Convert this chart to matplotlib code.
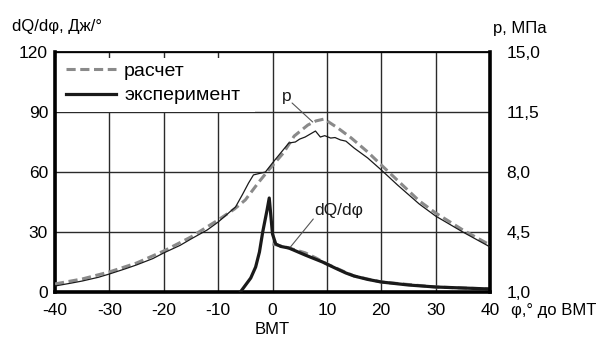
import numpy as np
import matplotlib
matplotlib.use('Agg')
import matplotlib.pyplot as plt
from matplotlib.patches import Rectangle
from matplotlib.ticker import FixedLocator, FuncFormatter

plt.rcParams['font.family'] = ['Liberation Sans', 'DejaVu Sans']
plt.rcParams['axes.unicode_minus'] = False

######
# data

# pressure, calculated (MPa)
phi_p_calc = [-40, -35, -30, -25, -20, -15, -10, -7, -5, -2.5, -0.7, 2, 4, 6.5, 8, 9.5,
              12, 14.5, 17.5, 20, 23.5, 27, 30, 35, 40]
p_calc = [1.47, 1.76, 2.17, 2.69, 3.39, 4.21, 5.20, 5.84, 6.37, 7.42, 8.12, 9.11, 10.10,
          10.74, 10.98, 11.09, 10.57, 9.98, 9.17, 8.41, 7.36, 6.31, 5.61, 4.62, 3.74]

# pressure, experiment (MPa)
phi_p_exp = [-40, -37, -35, -32, -30, -27, -25, -22, -20, -17, -15, -12, -10, -6.8, -5.5,
             -4.4, -3.5, -1.3, 0, 1.5, 3, 4.2, 5, 6, 7.9, 8.8, 9.6, 10.7, 11.5, 12.5, 13.5,
             15, 17.5, 20, 23, 27, 30, 35, 40]
p_exp = [1.35, 1.52, 1.64, 1.86, 2.05, 2.36, 2.58, 2.95, 3.28, 3.72, 4.09, 4.62, 5.08, 5.96,
         6.70, 7.36, 7.83, 8.00, 8.53, 9.11, 9.69, 9.75, 9.92, 10.04, 10.39, 10.04, 10.12,
         9.98, 10.01, 9.87, 9.80, 9.40, 8.82, 8.12, 7.24, 6.13, 5.43, 4.50, 3.63]

# heat release rate dQ/dphi, experiment (J/deg)
phi_q_exp = [-5.9, -4.0, -3.1, -2.4, -1.8, -1.0, -0.6, 0, 0.6, 1.5, 3, 6, 9.2, 11.5, 13.5,
             15, 17.5, 20, 25, 30, 35, 40]
q_exp = [0, 7.0, 12.5, 20, 30, 41, 47, 29, 24, 22.8, 22, 18.5, 15, 12, 9.5, 8, 6.3, 5, 3.5,
         2.5, 2, 1.5]

# heat release rate dQ/dphi, calculated (J/deg)
phi_q_calc = [0, 2, 4, 6, 8, 10, 15, 20, 30, 40]
q_calc = [24, 22.8, 21.2, 19.6, 17, 14, 8, 5, 2.5, 1.5]

x_ticks = [-40, -30, -20, -10, 0, 10, 20, 30, 40]
q_ticks = [0, 30, 60, 90, 120]
p_ticks = [1.0, 4.5, 8.0, 11.5, 15.0]

SIZE = 12.5
GRAY = '#8a8a8a'

fig = plt.figure(figsize=(6.01, 3.38), dpi=100)
ax = fig.add_axes([55/601, 1-292/338, 435/601, 240/338])
ax2 = ax.twinx()

ax.set_xlim(-40, 40)
ax.set_ylim(0, 120)
ax2.set_ylim(1, 15)

ax.set_axisbelow(True)
ax.xaxis.set_major_locator(FixedLocator(x_ticks))
ax.yaxis.set_major_locator(FixedLocator(q_ticks))
ax2.yaxis.set_major_locator(FixedLocator(p_ticks))
ax2.yaxis.set_major_formatter(FuncFormatter(lambda v, pos: ('%.1f' % v).replace('.', ',')))
ax.grid(True, color='#2a2a2a', lw=1.0)

ax.tick_params(axis='both', length=0, labelsize=SIZE, pad=5)
ax.tick_params(axis='x', pad=8)
ax2.tick_params(axis='y', length=0, labelsize=SIZE, pad=12)

for s in ['left', 'bottom']:
    ax.spines[s].set_linewidth(2.6)
ax.spines['top'].set_linewidth(1.3)
ax.spines['right'].set_visible(False)
for s in ['left', 'bottom', 'top']:
    ax2.spines[s].set_visible(False)
ax2.spines['right'].set_linewidth(2.6)

# white box behind the legend
ax.add_patch(Rectangle((0, 0.75), 0.46, 0.225, transform=ax.transAxes,
                       facecolor='white', edgecolor='none', zorder=1))

# curves
ax.plot(phi_q_calc, q_calc, color=GRAY, ls=(0, (3, 1.5)), lw=2.2, zorder=2)
ax.plot(phi_q_exp, q_exp, color='#1a1a1a', lw=2.3, zorder=3)
ax2.plot(phi_p_calc, p_calc, color=GRAY, ls=(0, (3, 1.5)), lw=2.2, zorder=2)
ax2.plot(phi_p_exp, p_exp, color='#1a1a1a', lw=0.9, zorder=3)

# legend
h1, = ax.plot([], [], color=GRAY, ls=(0, (3, 1.5)), lw=2.2, label='расчет')
h2, = ax.plot([], [], color='#1a1a1a', lw=2.3, label='эксперимент')
ax.legend(handles=[h1, h2], loc='upper left', bbox_to_anchor=(0, 1), frameon=False,
          fontsize=14, handlelength=2.6, handletextpad=0.4, labelspacing=0.33,
          borderaxespad=0, borderpad=0.55)

# annotations
ax.text(1.8, 97.5, 'p', fontsize=SIZE, va='center', ha='left', color='#1a1a1a')
ax.annotate('', xy=(7.4, 85), xytext=(3.6, 94.5),
            arrowprops=dict(arrowstyle='-', color='#555555', lw=0.8, shrinkA=0, shrinkB=0))
ax.text(7.6, 40.5, 'dQ/dφ', fontsize=SIZE, va='center', ha='left', color='#1a1a1a')
ax.annotate('', xy=(3.3, 22.5), xytext=(7.5, 36.5),
            arrowprops=dict(arrowstyle='-', color='#555555', lw=0.8, shrinkA=0, shrinkB=0))

# axis captions
fig.text(12/601, 1-27/338, 'dQ/dφ, Дж/°', fontsize=12, ha='left', va='center')
fig.text(493/601, 1-28/338, 'p, МПа', fontsize=12, ha='left', va='center')
fig.text(511/601, 1-310/338, 'φ,° до ВМТ', fontsize=12, ha='left', va='center')
fig.text(272/601, 1-330/338, 'ВМТ', fontsize=12, ha='center', va='center')

plt.savefig('out.png', dpi=100)
plt.close()
